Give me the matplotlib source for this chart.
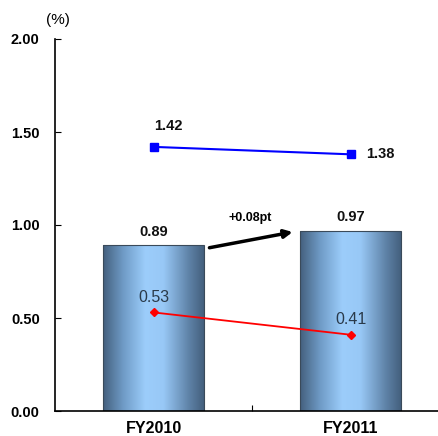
import matplotlib
matplotlib.use("Agg")
import matplotlib.pyplot as plt
import numpy as np
from matplotlib.colors import LinearSegmentedColormap

plt.rcParams['font.family'] = ['Liberation Sans', 'DejaVu Sans']

categories = ["FY2010", "FY2011"]
bar_values = [0.89, 0.97]
blue_values = [1.42, 1.38]
red_values = [0.53, 0.41]
yticks = [0.0, 0.5, 1.0, 1.5, 2.0]
ytick_labels = ["0.00", "0.50", "1.00", "1.50", "2.00"]
change_label = "+0.08pt"

W, H = 438, 436
fig = plt.figure(figsize=(W / 100, H / 100), dpi=100)
ax = fig.add_axes([55 / W, 1 - 411 / H, (438 - 55) / W, (411 - 39) / H])
ax.set_xlim(-0.5, 1.444)
ax.set_ylim(0, 2.0)

x = np.arange(len(categories))
bw = 0.51
bars = ax.bar(x, bar_values, width=bw, color='none', edgecolor='#3a4a5a', linewidth=0.8, zorder=2)

cmap = LinearSegmentedColormap.from_list(
    "barg", [(0.0, "#44607e"), (0.2, "#6f9bc6"), (0.42, "#9ccdfb"), (0.6, "#98c8f6"), (0.85, "#5f83a8"), (1.0, "#44607e")])
grad = np.linspace(0, 1, 256).reshape(1, -1)
for b in bars:
    x0, y0 = b.get_x(), b.get_y()
    im = ax.imshow(grad, cmap=cmap, aspect='auto', extent=[x0, x0 + b.get_width(), y0, y0 + b.get_height()], zorder=1)
    im.set_clip_path(b)
ax.set_xlim(-0.5, 1.444)
ax.set_ylim(0, 2.0)

ax.plot(x, blue_values, color='#0000ff', marker='s', markersize=6, linewidth=1.5, zorder=4)
ax.plot(x, red_values, color='#ff0000', marker='D', markersize=4.5, linewidth=1.3, zorder=4)

for xi, v in zip(x, bar_values):
    ax.text(xi, v + 0.035, f"{v:.2f}", ha='center', va='bottom', fontsize=10.5, fontweight='bold', color='#111111')
ax.text(x[0] + 0.075, blue_values[0] + 0.075, f"{blue_values[0]:.2f}", ha='center', va='bottom', fontsize=10.5, fontweight='bold', color='#111111')
ax.text(x[1] + 0.08, blue_values[1], f"{blue_values[1]:.2f}", ha='left', va='center', fontsize=10.5, fontweight='bold', color='#111111')
for xi, v in zip(x, red_values):
    ax.text(xi, v + 0.04, f"{v:.2f}", ha='center', va='bottom', fontsize=11.5, color='#2a3a4a')

ax.annotate("", xy=(x[1] - 0.28, 0.965), xytext=(x[0] + 0.27, 0.875),
            arrowprops=dict(arrowstyle='-|>', color='black', lw=2.5, mutation_scale=12), zorder=5)
ax.text(0.49, 1.035, change_label, ha='center', va='center', fontsize=9, fontweight='bold')

ax.set_yticks(yticks)
ax.set_yticklabels(ytick_labels, fontweight='bold', fontsize=10.5)
ax.tick_params(axis='y', direction='in', length=4, pad=11)
ax.set_xticks([0.5])
ax.set_xticklabels([""])
ax.tick_params(axis='x', direction='in', length=4)
for xi, c in zip(x, categories):
    ax.text(xi, -0.055, c, ha='center', va='top', fontsize=11.5, fontweight='bold', transform=ax.transData)

for s in ['top', 'right']:
    ax.spines[s].set_visible(False)
ax.spines['left'].set_linewidth(1.2)
ax.spines['bottom'].set_linewidth(1.2)

fig.text(58 / W, 1 - 20 / H, "(%)", ha='center', va='center', fontsize=11)

fig.savefig("out.png", dpi=100)
